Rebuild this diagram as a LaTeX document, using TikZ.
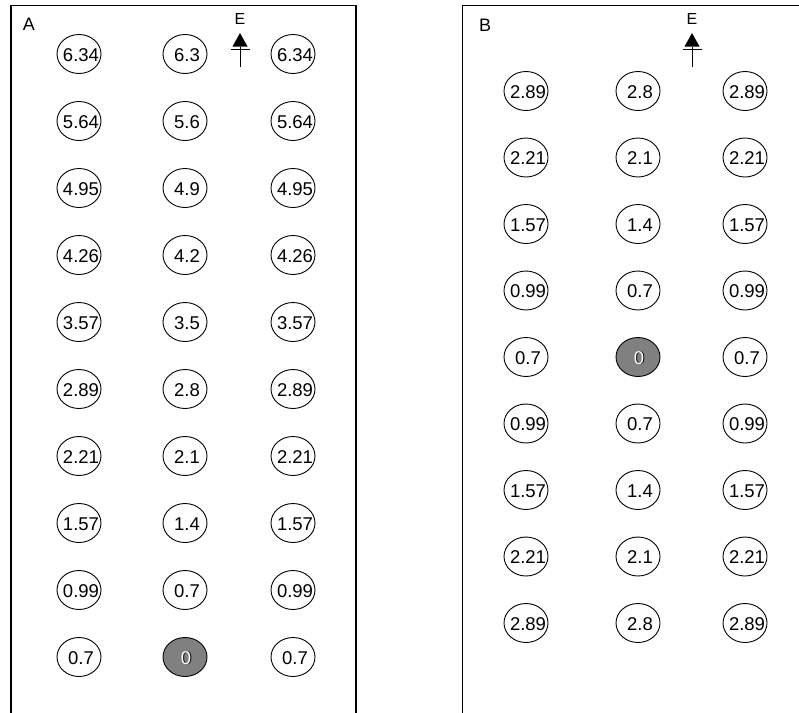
\documentclass[tikz,border=0pt]{standalone}
\usepackage{fontspec}
\setmainfont{Liberation Sans}
\usetikzlibrary{shapes.geometric}
\begin{document}
\begin{tikzpicture}[x=1pt,y=-1pt,
  vtext/.style={inner sep=0pt, xshift=2pt, yshift=-1pt, font=\fontsize{18.5}{21}\selectfont},
  cell/.style={ellipse, draw, line width=0.9pt, minimum width=44pt, minimum height=39pt,
    inner sep=0pt, label={[vtext]center:#1}},
  hot/.style={cell=#1, fill=black!50, label={[vtext, text=white, xshift=-1pt]center:#1}},
  panel/.style={draw, line width=1.5pt},
  plabel/.style={inner sep=0pt, font=\fontsize{18}{21}\selectfont},
  elabel/.style={inner sep=0pt, font=\fontsize{16}{19}\selectfont},
  shaft/.style={line width=1pt}]
\useasboundingbox (0,0) rectangle (799,712);
\clip (0,0) rectangle (799,712);
% panels
\draw[panel] (11,730) -- (11,5.7) -- (356,5.7) -- (356,730);
\draw[panel] (462.7,730) -- (462.7,5.5) -- (820,5.5);
\node[plabel] (labA) at (29,24) {A};
\node[plabel] (labB) at (485,25) {B};
% field arrows
\foreach \n/\x in {eA/240, eB/692}{
  \node[elabel] (\n) at (\x,19) {E};
  \coordinate (\n tip) at (\x,33);
  \coordinate (\n foot) at (\x,67);
  \fill (\x-7.5,46.5) -- (\n tip) -- (\x+7.5,46.5) -- cycle;
  \draw[shaft] (\x-9.5,49) -- (\x+9.5,49);
  \draw[shaft] (\x,46.5) -- (\n foot);
}
% panel A
\foreach \s/\m [count=\i from 0] in {6.34/6.3, 5.64/5.6, 4.95/4.9, 4.26/4.2, 3.57/3.5, 2.89/2.8, 2.21/2.1, 1.57/1.4, 0.99/0.7}{
  \node[cell=\s] (a\i l) at (79,54+67*\i) {};
  \node[cell=\m] (a\i m) at (185,54+67*\i) {};
  \node[cell=\s] (a\i r) at (293,54+67*\i) {};
}
\node[cell=0.7] (a9l) at (79,657) {};
\node[hot=0] (a9m) at (185,657) {};
\node[cell=0.7] (a9r) at (293,657) {};
% panel B
\foreach \s [count=\i from 0] in {2.89, 2.21, 1.57, 0.99, 0.7, 0.99, 1.57, 2.21, 2.89}{
  \node[cell=\s] (b\i l) at (526,91+66.5*\i) {};
  \node[cell=\s] (b\i r) at (745,91+66.5*\i) {};
}
\foreach \m [count=\i from 0] in {2.8, 2.1, 1.4, 0.7}{
  \node[cell=\m] (b\i m) at (638,91+66.5*\i) {};
}
\node[hot=0] (b4m) at (638,357) {};
\foreach \m [count=\i from 5] in {0.7, 1.4, 2.1, 2.8}{
  \node[cell=\m] (b\i m) at (638,91+66.5*\i) {};
}
\end{tikzpicture}
\end{document}
